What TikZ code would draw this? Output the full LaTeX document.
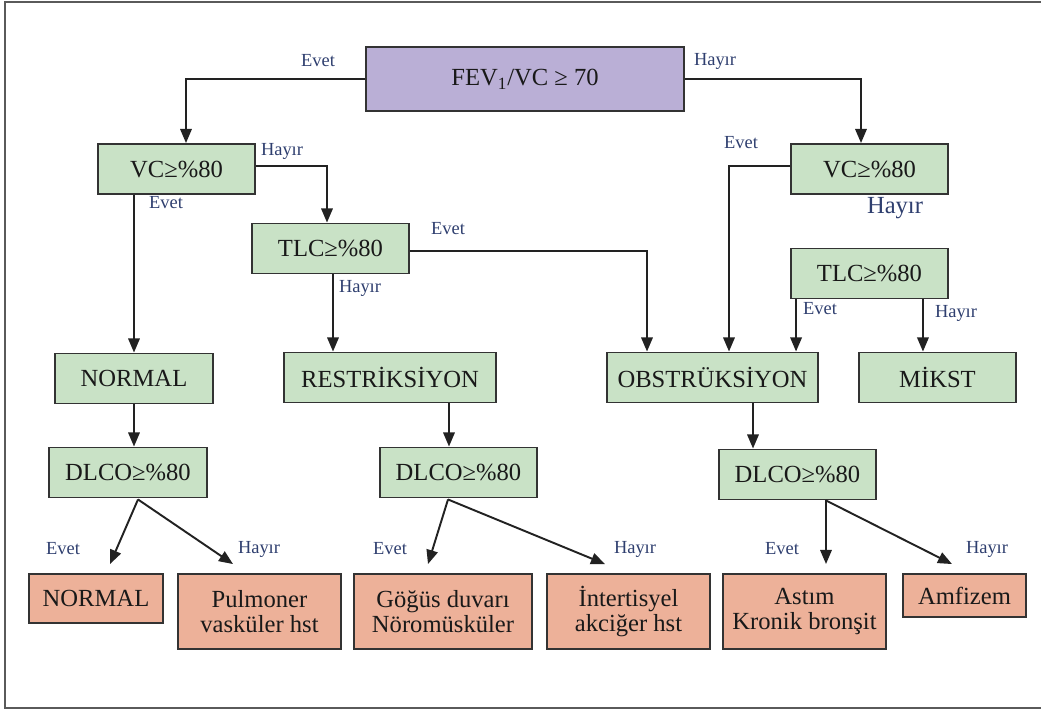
\documentclass[tikz,border=0pt]{standalone}
\usepackage{fontspec}
\setmainfont{Liberation Serif}
\usetikzlibrary{arrows.meta,calc}

\definecolor{grnfill}{HTML}{C9E2C6}
\definecolor{purfill}{HTML}{BAAFD6}
\definecolor{salfill}{HTML}{EDB199}
\definecolor{boxline}{HTML}{333333}
\definecolor{linec}{HTML}{222222}
\definecolor{lblc}{HTML}{2F3F6F}
\definecolor{framec}{HTML}{5A5A5A}

\tikzset{
	box/.style={draw=boxline, line width=1.1pt, inner sep=0pt, align=center,
		font=\fontsize{14}{14}\selectfont, text=black!90},
	grn/.style={box, fill=grnfill, minimum width=3.14cm, minimum height=1cm},
	pur/.style={box, fill=purfill},
	sal/.style={box, fill=salfill, minimum width=3.26cm, minimum height=1.5cm},
	lbl/.style={font=\fontsize{10.5}{12}\selectfont, text=lblc, inner sep=0pt},
	arr/.style={draw=linec, line width=1.1pt, -{Triangle[length=8pt,width=6.5pt]}}
}

\begin{document}
\begin{tikzpicture}[x=0.02cm, y=-0.02cm]
		\useasboundingbox (0,0) rectangle (1041,711);
		\draw[framec, line width=1.4pt] (1041,2) -- (5,2) -- (5,708) -- (1041,708);

		% top
		\node[pur, minimum width=6.36cm, minimum height=1.28cm] (fev) at (525,79) {FEV\textsubscript{1}/VC ≥ 70};

		% second level
		\node[grn] (vcl) at (176.5,169) {VC≥\%80};
		\node[grn] (vcr) at (869.5,169) {VC≥\%80};
		\node[grn] (tlcl) at (330.5,248.5) {TLC≥\%80};
		\node[grn] (tlcr) at (869.5,273.5) {TLC≥\%80};

		% patterns
		\node[grn, minimum width=3.16cm] (norm) at (134,378.5) {NORMAL};
		\node[grn, minimum width=4.24cm] (restr) at (390,377.5) {RESTRİKSİYON};
		\node[grn, minimum width=4.22cm] (obstr) at (712.5,377.5) {OBSTRÜKSİYON};
		\node[grn] (mikst) at (937.5,377.5) {MİKST};

		% dlco
		\node[grn, minimum width=3.16cm] (dlcol) at (128,472.5) {DLCO≥\%80};
		\node[grn] (dlcom) at (458.5,472.5) {DLCO≥\%80};
		\node[grn] (dlcor) at (797.5,474.5) {DLCO≥\%80};

		% results
		\node[sal, minimum width=2.68cm, minimum height=0.98cm] (rnorm) at (96,598.5) {NORMAL};
		\node[sal] (pulm) at (259.5,611.5) {Pulmoner\\vasküler hst};
		\node[sal, minimum width=3.56cm] (gogus) at (443,611.5) {Göğüs duvarı\\Nöromüsküler};
		\node[sal] (inter) at (628.5,611.5) {İntertisyel\\akciğer hst};
		\node[sal] (astim) at (804.5,611.5) {Astım\\Kronik bronşit};
		\node[sal, minimum width=2.46cm, minimum height=0.86cm] (amfi) at (964.5,595.5) {Amfizem};

		% labels
		\node[lbl] (l1) at (318,61) {Evet};
		\node[lbl] (l2) at (715,61) {Hayır};
		\node[lbl] (l3) at (282,151) {Hayır};
		\node[lbl] (l4) at (166,203) {Evet};
		\node[lbl] (l5) at (448,229) {Evet};
		\node[lbl] (l6) at (360,288) {Hayır};
		\node[lbl] (l7) at (741,143) {Evet};
		\node[lbl, font=\fontsize{14}{14}\selectfont] (l8) at (895,208) {Hayır};
		\node[lbl] (l9) at (820,309) {Evet};
		\node[lbl] (l10) at (956,313) {Hayır};
		\node[lbl] (l11) at (63,549) {Evet};
		\node[lbl] (l12) at (259,549) {Hayır};
		\node[lbl] (l13) at (390,549) {Evet};
		\node[lbl] (l14) at (635,549) {Hayır};
		\node[lbl] (l15) at (782,549) {Evet};
		\node[lbl] (l16) at (987,549) {Hayır};

		\coordinate (tlcrE) at ($(tlcr.south west)+(6,0)$);
		\coordinate (tlcrH) at ($(tlcr.south east)+(-26,0)$);
		\coordinate (tlclH) at ($(tlcl.south)+(2.5,0)$);
		\coordinate (rd) at ($(dlcom.north)+(-9.5,0)$);
		\coordinate (od) at ($(dlcor.north)+(-44.5,0)$);

		\draw[arr] (fev.west) -| ($(vcl.north)+(9.5,0)$);
		\draw[arr] (fev.east) -| ($(vcr.north)+(-8.5,0)$);
		\draw[arr] ($(vcl.east)+(0,-3)$) -| ($(tlcl.north)+(-3.5,0)$);
		\draw[arr] (norm.north |- vcl.south) -- (norm.north);
		\draw[arr] ($(tlcl.east)+(0,2.5)$) -| ($(obstr.north)+(-65.5,0)$);
		\draw[arr] (tlclH) -- (tlclH |- restr.north);
		\draw[arr] ($(vcr.west)+(0,-3)$) -| ($(obstr.north)+(16.5,0)$);
		\draw[arr] (tlcrE) -- (tlcrE |- obstr.north);
		\draw[arr] (tlcrH) -- (tlcrH |- mikst.north);

		\draw[arr] (norm.south) -- (norm.south |- dlcol.north);
		\draw[arr] (rd |- restr.south) -- (rd);
		\draw[arr] (od |- obstr.south) -- (od);

		\draw[arr] ($(dlcol.south)+(10,1)$) -- ($(rnorm.north)+(14,-9)$);
		\draw[arr] ($(dlcol.south)+(10,1)$) -- ($(pulm.north)+(-26.5,-9)$);
		\draw[arr] ($(dlcom.south)+(-10.5,1)$) -- ($(gogus.north)+(-15,-9)$);
		\draw[arr] ($(dlcom.south)+(-10.5,1)$) -- ($(inter.north)+(-23.5,-9)$);
		\draw[arr] ($(dlcor.south)+(28.5,0)$) -- ($(astim.north)+(21.5,-9)$);
		\draw[arr] ($(dlcor.south)+(28.5,0)$) -- ($(amfi.north)+(-12.5,-9)$);

	\end{tikzpicture}
\end{document}
